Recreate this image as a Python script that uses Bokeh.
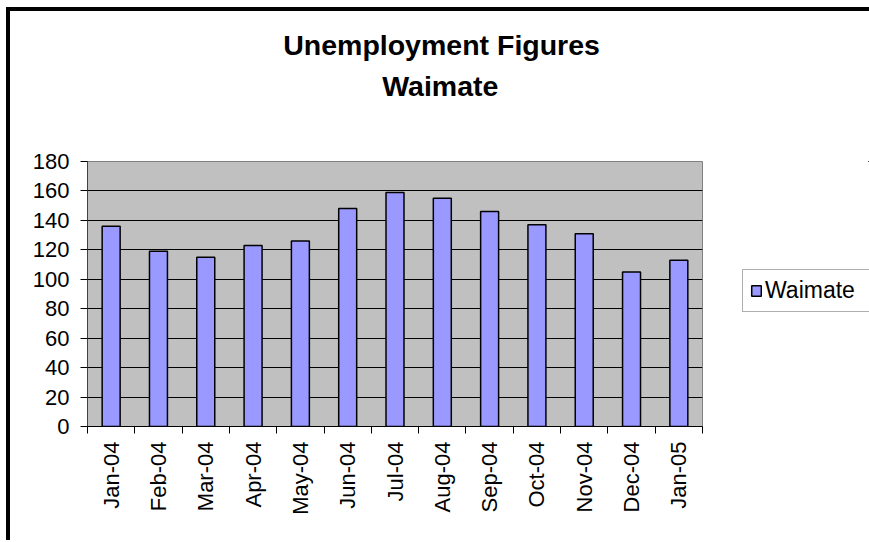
from math import pi
from bokeh.plotting import figure
from bokeh.layouts import row
from bokeh.models import (ColumnDataSource, Range1d, FixedTicker, Title, Legend,
                          LegendItem)
from bokeh.embed import file_html
from bokeh.resources import INLINE

# ---- data ----
months = ["Jan-04", "Feb-04", "Mar-04", "Apr-04", "May-04", "Jun-04", "Jul-04",
          "Aug-04", "Sep-04", "Oct-04", "Nov-04", "Dec-04", "Jan-05"]
values = [136, 119, 115, 123, 126, 148, 159, 155, 146, 137, 131, 105, 113]
y_ticks = [0, 20, 40, 60, 80, 100, 120, 140, 160, 180]
series_name = "Waimate"
title_lines = ["Unemployment Figures", "Waimate"]

FONT = "Liberation Sans"
BAR_FILL = "#9999FF"
H = 529

positions = list(range(len(months)))
src = ColumnDataSource(dict(x=positions, value=values, month=months))

p = figure(width=732, height=H, output_backend="svg", toolbar_location=None,
           x_range=Range1d(-0.5, len(months) - 0.5),
           y_range=Range1d(y_ticks[0], y_ticks[-1]),
           min_border_left=77, min_border_right=40,
           min_border_top=150, min_border_bottom=114)
p.title = None
p.background_fill_color = "#C0C0C0"
p.border_fill_color = "white"
p.outline_line_color = "#808080"
p.outline_line_width = 1

# bars
p.vbar(x="x", top="value", bottom=0, width=0.38, source=src,
       fill_color=BAR_FILL, line_color="black", line_width=1.5)

# x axis: labels at centres, tick marks at category boundaries
p.xaxis.ticker = FixedTicker(ticks=positions,
                             minor_ticks=[i - 0.5 for i in range(len(months) + 1)])
p.xaxis.major_label_overrides = {i: m for i, m in enumerate(months)}
p.xaxis.major_tick_out = 0
p.xaxis.major_tick_in = 0
p.xaxis.minor_tick_out = 7
p.xaxis.minor_tick_in = 0
p.xaxis.minor_tick_line_color = "black"
p.xaxis.major_label_orientation = pi / 2
p.xaxis.major_label_standoff = 8
p.xaxis.major_label_text_font = FONT
p.xaxis.major_label_text_font_size = "22px"
p.xaxis.major_label_text_color = "black"
p.xaxis.axis_line_color = "black"

# y axis
p.yaxis.ticker = FixedTicker(ticks=y_ticks)
p.yaxis.major_tick_out = 7
p.yaxis.major_tick_in = 0
p.yaxis.minor_tick_line_color = None
p.yaxis.major_tick_line_color = "black"
p.yaxis.major_label_standoff = 11
p.yaxis.major_label_text_font = FONT
p.yaxis.major_label_text_font_size = "22px"
p.yaxis.major_label_text_color = "black"
p.yaxis.axis_line_color = "#404040"

# grid
p.xgrid.visible = False
p.ygrid.ticker = FixedTicker(ticks=y_ticks[1:-1])
p.ygrid.grid_line_color = "black"
p.ygrid.grid_line_width = 1

# title: stacked outward from the frame (spacer, line 2, line 1)
title_style = dict(text_font=FONT, text_font_style="bold",
                   text_font_size="28.5px", text_color="black")
spacer = Title(text=" ", align="left", offset=0, standoff=26, **title_style)
t2 = Title(text=title_lines[1], align="left", offset=294.7, standoff=0, **title_style)
t1 = Title(text=title_lines[0], align="left", offset=195.7, standoff=14, **title_style)
p.add_layout(spacer, "above")
p.add_layout(t2, "above")
p.add_layout(t1, "above")

# legend panel (separate canvas so the box is not clipped by the plot frame);
# its key renderer shares the data but lies outside this canvas' ranges
lp = figure(width=127, height=H, output_backend="svg", toolbar_location=None,
            x_range=Range1d(-100, -99), y_range=Range1d(-100, -99),
            x_axis_type=None, y_axis_type=None,
            min_border_left=0, min_border_right=0,
            min_border_top=0, min_border_bottom=0)
lp.title = None
lp.outline_line_color = None
lp.background_fill_color = "white"
lp.border_fill_color = "white"
lp.xgrid.visible = False
lp.ygrid.visible = False
key = lp.vbar(x="x", top="value", bottom=0, width=0.38, source=src,
              fill_color=BAR_FILL, line_color="black", line_width=1.5)
lg = Legend(items=[LegendItem(label=series_name, renderers=[key])],
            location=(0, 114))
lg.border_line_color = "#606060"
lg.border_line_width = 1
lg.background_fill_color = "white"
lg.background_fill_alpha = 1
lg.padding = 7
lg.margin = 0
lg.glyph_width = 12
lg.glyph_height = 13
lg.label_standoff = 3
lg.label_width = 120
lg.label_text_font = FONT
lg.label_text_font_size = "23px"
lg.label_text_color = "black"
lp.add_layout(lg, "center")

layout = row(p, lp, spacing=0)
layout.styles = {"margin-left": "6px", "margin-top": "7px",
                 "border-left": "4px solid black", "border-top": "4px solid black"}

open("out.html", "w").write(file_html(layout, INLINE))
